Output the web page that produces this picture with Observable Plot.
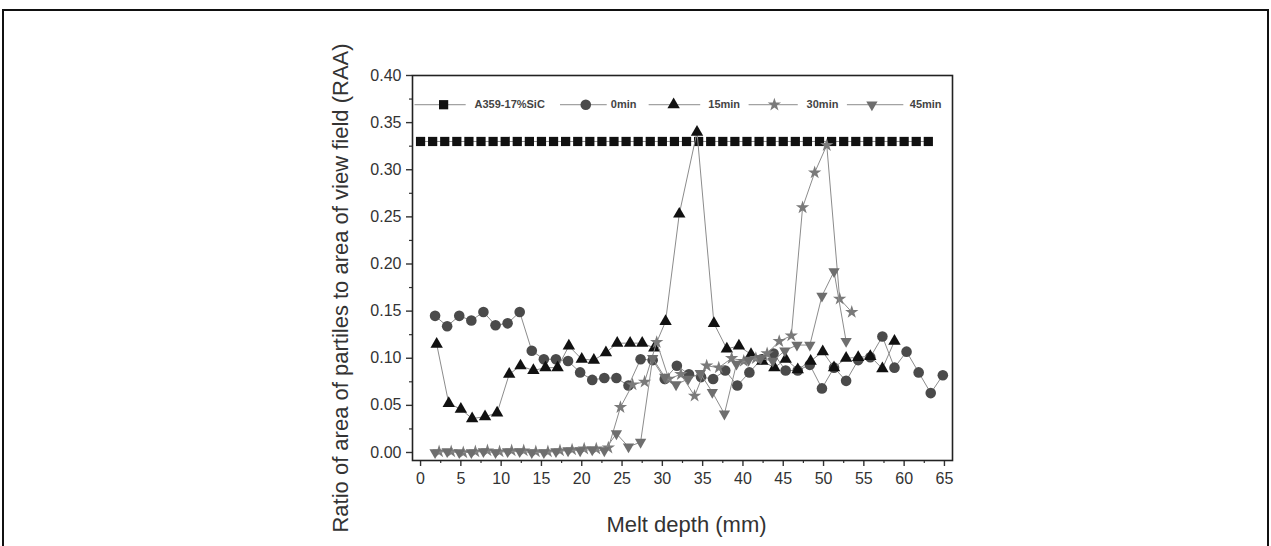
<!DOCTYPE html>
<html><head><meta charset="utf-8">
<script src="https://cdn.jsdelivr.net/npm/d3@7"></script>
<script src="https://cdn.jsdelivr.net/npm/@observablehq/plot@0.6"></script>
<style>
html,body{margin:0;padding:0;background:#fff;overflow:hidden}
#wrap{position:relative;width:1271px;height:546px}
#wrap svg{position:absolute;left:0;top:0}
#border{position:absolute;left:2px;top:9px;width:1263px;height:600px;border:2px solid #111;border-bottom:none;pointer-events:none}
</style></head><body><div id="wrap"><div id="border"></div></div>
<script>
// ---- data ----
const seriesNames = ["A359-17%SiC", "0min", "15min", "30min", "45min"];

const sqX = [0,1.5,3,4.5,6,7.5,9,10.5,12,13.5,15,16.5,18,19.5,21,22.5,24,25.5,27,28.5,30,31.5,33,34.5,36,37.5,39,40.5,42,43.5,45,46.5,48,49.5,51,52.5,54,55.5,57,58.5,60,61.5,63];
const sqY = [0.33,0.33,0.33,0.33,0.33,0.33,0.33,0.33,0.33,0.33,0.33,0.33,0.33,0.33,0.33,0.33,0.33,0.33,0.33,0.33,0.33,0.33,0.33,0.33,0.33,0.33,0.33,0.33,0.33,0.33,0.33,0.33,0.33,0.33,0.33,0.33,0.33,0.33,0.33,0.33,0.33,0.33,0.33];

const c0X = [1.8,3.3,4.8,6.3,7.8,9.3,10.8,12.3,13.8,15.3,16.8,18.3,19.8,21.3,22.8,24.3,25.8,27.3,28.8,30.3,31.8,33.3,34.8,36.3,37.8,39.3,40.8,42.3,43.8,45.3,46.8,48.3,49.8,51.3,52.8,54.3,55.8,57.3,58.8,60.3,61.8,63.3,64.8];
const c0Y = [0.145,0.134,0.145,0.140,0.149,0.135,0.137,0.149,0.108,0.099,0.099,0.097,0.085,0.077,0.079,0.079,0.071,0.099,0.098,0.078,0.092,0.083,0.080,0.078,0.087,0.071,0.085,0.099,0.105,0.087,0.087,0.093,0.068,0.090,0.076,0.098,0.101,0.123,0.090,0.107,0.085,0.063,0.082];

const t15X = [2.0,3.5,5.0,6.4,8.0,9.5,11.0,12.4,14.0,15.5,17.0,18.4,20.0,21.5,23.0,24.4,26.0,27.5,29.0,30.4,32.1,34.3,36.4,38.0,39.5,41.0,42.4,43.9,45.3,46.8,48.4,49.9,51.3,52.8,54.3,55.8,57.3,58.8];
const t15Y = [0.115,0.052,0.046,0.036,0.038,0.042,0.083,0.092,0.087,0.090,0.090,0.113,0.099,0.098,0.106,0.116,0.116,0.116,0.111,0.139,0.253,0.340,0.137,0.110,0.113,0.104,0.097,0.090,0.099,0.088,0.097,0.107,0.090,0.100,0.101,0.102,0.089,0.118];

const s30X = [2.3,3.8,5.3,6.8,8.3,9.8,11.3,12.8,14.3,15.8,17.3,18.8,20.3,21.8,23.3,24.8,26.3,27.8,29.3,30.8,32.3,34.0,35.5,37.0,38.6,40.1,41.6,43.0,44.5,46.0,47.4,48.9,50.4,52.0,53.5];
const s30Y = [0.001,0.001,0.000,0.001,0.002,0.001,0.002,0.002,0.001,0.001,0.002,0.003,0.004,0.004,0.005,0.048,0.072,0.075,0.117,0.078,0.083,0.060,0.092,0.090,0.100,0.097,0.100,0.105,0.118,0.124,0.260,0.297,0.326,0.163,0.149];

const d45X = [1.8,3.3,4.8,6.3,7.8,9.3,10.8,12.3,13.8,15.3,16.8,18.3,19.8,21.3,22.8,24.3,25.8,27.3,28.8,30.3,31.7,33.2,34.7,36.2,37.7,39.2,40.7,42.2,43.7,45.2,46.7,48.3,49.8,51.3,52.8];
const d45Y = [0.000,0.001,0.000,0.000,0.001,0.000,0.001,0.001,0.000,0.000,0.001,0.002,0.002,0.003,0.002,0.020,0.006,0.011,0.100,0.080,0.072,0.078,0.084,0.064,0.041,0.094,0.098,0.100,0.097,0.108,0.114,0.114,0.166,0.192,0.118];

const xTicks = [0,5,10,15,20,25,30,35,40,45,50,55,60,65];
const xMinorTicks = [2.5,7.5,12.5,17.5,22.5,27.5,32.5,37.5,42.5,47.5,52.5,57.5,62.5];
const yTicks = [0,0.05,0.10,0.15,0.20,0.25,0.30,0.35,0.40];
const yMinorTicks = [0.025,0.075,0.125,0.175,0.225,0.275,0.325,0.375];

const xTitle = "Melt depth (mm)";
const yTitle = "Ratio of area of partiles to area of view field (RAA)";

// ---- styling / layout ----
const downTriangle = {
  draw(ctx, size) {
    d3.symbolTriangle.draw({
      moveTo: (x, y) => ctx.moveTo(x, -y),
      lineTo: (x, y) => ctx.lineTo(x, -y),
      closePath: () => ctx.closePath()
    }, size);
  }
};
const styles = [
  {symbol: "square", fill: "#111", r: 5.2},
  {symbol: "circle", fill: "#4a4a4a", r: 5.3},
  {symbol: "triangle", fill: "#111", r: 4.6},
  {symbol: "star", fill: "#7a7a7a", r: 4.2},
  {symbol: downTriangle, fill: "#6e6e6e", r: 4.2}
];
// legend layout in data units along x, single row at legendY
const legendY = 0.369;
const legendLayout = [
  {x1: -0.75, x2: 5.6, xm: 2.86, xt: 6.7},
  {x1: 17.3, x2: 23.1, xm: 20.5, xt: 23.6},
  {x1: 28.3, x2: 34.7, xm: 31.4, xt: 35.7},
  {x1: 40.7, x2: 46.8, xm: 43.9, xt: 47.9},
  {x1: 52.9, x2: 59.9, xm: 56.0, xt: 60.7}
];

const xs = [sqX, c0X, t15X, s30X, d45X];
const ys = [sqY, c0Y, t15Y, s30Y, d45Y];
const tables = xs.map((X, k) => X.map((x, i) => ({x, y: ys[k][i]})));

const marks = [];
tables.forEach((rows, k) => {
  marks.push(Plot.line(rows, {x: "x", y: "y", stroke: "#8c8c8c", strokeWidth: 1}));
  marks.push(Plot.dot(rows, {x: "x", y: "y", symbol: styles[k].symbol, fill: styles[k].fill, r: styles[k].r, stroke: "none"}));
});
// legend
seriesNames.forEach((name, k) => {
  const L = legendLayout[k];
  marks.push(Plot.link([L], {x1: "x1", x2: "x2", y1: () => legendY, y2: () => legendY, stroke: "#8c8c8c", strokeWidth: 1}));
  marks.push(Plot.dot([L], {x: "xm", y: () => legendY, symbol: styles[k].symbol, fill: styles[k].fill, r: styles[k].r, stroke: "none"}));
  marks.push(Plot.text([L], {x: "xt", y: () => legendY, text: () => name, textAnchor: "start", fontSize: 11, fontWeight: "bold", fill: "#444"}));
});

const chart = Plot.plot({
  width: 1271,
  height: 546,
  marginLeft: 412,
  marginRight: 319,
  marginTop: 75,
  marginBottom: 86,
  style: {fontFamily: "'Liberation Sans', Arial, sans-serif", background: "transparent", color: "#333"},
  x: {domain: [-1, 66], label: null},
  y: {domain: [-0.0085, 0.40], label: null},
  marks: [
    Plot.axisX({ticks: xMinorTicks, tickSize: 3, tickFormat: () => "", label: null, stroke: "#333", strokeWidth: 1.2}),
    Plot.axisX({ticks: xTicks, tickSize: 6, tickPadding: 6, tickFormat: d3.format("d"), label: null, fontSize: 16, fill: "#333", stroke: "#333", strokeWidth: 1.4}),
    Plot.axisY({ticks: yMinorTicks, tickSize: 3, tickFormat: () => "", label: null, stroke: "#333", strokeWidth: 1.2}),
    Plot.axisY({ticks: yTicks, tickSize: 6, tickPadding: 5, tickFormat: d3.format(".2f"), label: null, fontSize: 16, fill: "#333", stroke: "#333", strokeWidth: 1.4}),
    ...marks,
    Plot.frame({stroke: "#222", strokeWidth: 1.6}),
    Plot.text([xTitle], {text: d => d, frameAnchor: "bottom", textAnchor: "middle", lineAnchor: "middle", dx: 4, dy: 64, fontSize: 22, fill: "#333"}),
    Plot.text([yTitle], {text: d => d, frameAnchor: "left", textAnchor: "middle", lineAnchor: "middle", dx: -72, dy: 20, rotate: -90, fontSize: 22, fill: "#333"})
  ]
});
document.getElementById("wrap").prepend(chart);
</script></body></html>
